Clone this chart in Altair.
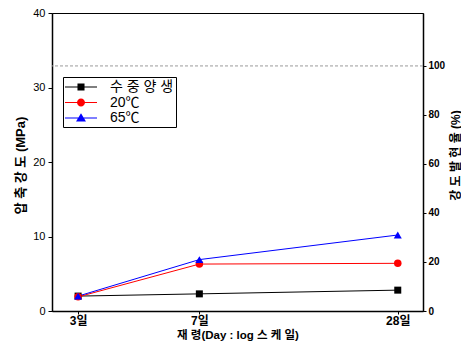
import altair as alt
import pandas as pd

days = [3, 7, 28]
series = ["수 중 양 생", "20℃", "65℃"]
water_mpa = [2.0, 2.3, 2.8]
c20_mpa = [1.9, 6.3, 6.4]
c65_mpa = [2.0, 6.9, 10.2]
colors = ["#000000", "#ff0000", "#0000ff"]
shapes = ["square", "circle", "triangle-up"]
marker_sizes = [49, 64, 100]
ref_pct = [100]
left_ticks = [0, 10, 20, 30, 40]
right_ticks = [0, 20, 40, 60, 80, 100]

# legend glyphs: a short line with the marker on it
legend_paths = [
    "M-2,-0.06H2V0.06H-2Z M-0.44,-0.44H0.44V0.44H-0.44Z",
    "M-2,-0.06H2V0.06H-2Z M-0.5,0A0.5,0.5 0 1,1 0.5,0A0.5,0.5 0 1,1 -0.5,0Z",
    "M-2,-0.06H2V0.06H-2Z M0,-0.6L0.62,0.45L-0.62,0.45Z",
]

rows = []
for name, vals in zip(series, [water_mpa, c20_mpa, c65_mpa]):
    for d, v in zip(days, vals):
        rows.append({"day": d, "mpa": v, "series": name})
df = pd.DataFrame(rows)
ref_df = pd.DataFrame({"pct": ref_pct})

FONT = "Liberation Sans, Arial, Noto Sans CJK KR, sans-serif"

xs = alt.Scale(type="log", domain=[2.5, 33.4], nice=False)
ys = alt.Scale(domain=[0, 40], nice=False)
cs = alt.Scale(domain=series, range=colors)

x_enc = alt.X(
    "day:Q", scale=xs,
    axis=alt.Axis(values=days, labelExpr="datum.value + '일'",
                  title="재 령(Day : log 스 케 일)", titleX=185.5, titleY=24,
                  titleBaseline="middle", titleAlign="center", titleFontSize=11.5,
                  titleFontWeight="bold", labelFontSize=12, labelFontWeight="bold",
                  tickSize=3, labelPadding=1, grid=False),
)
y_enc = alt.Y(
    "mpa:Q", scale=ys,
    axis=alt.Axis(values=left_ticks, title="압 축 강 도 (MPa)", titleX=-32, titleY=152,
                  titleAngle=270, titleBaseline="middle", titleAlign="center",
                  titleFontSize=13, titleFontWeight="bold", labelFontSize=11,
                  tickSize=4, labelPadding=3, grid=False),
)

lines = alt.Chart(df).mark_line(strokeWidth=1).encode(
    x=x_enc, y=y_enc,
    color=alt.Color("series:N", scale=cs, legend=None),
)

points = alt.Chart(df).mark_point(filled=True, opacity=1).encode(
    x=x_enc, y=y_enc,
    color=alt.Color("series:N", scale=cs, legend=None),
    shape=alt.Shape("series:N", scale=alt.Scale(domain=series, range=shapes), legend=None),
    size=alt.Size("series:N", scale=alt.Scale(domain=series, range=marker_sizes), legend=None),
)

leg_props = dict(orient="none", legendX=11, legendY=64, title=None, symbolSize=256,
                 symbolStrokeWidth=0, labelFontSize=14, labelFont=FONT, labelColor="black",
                 strokeColor="black", fillColor="white", padding=2, rowPadding=0.5,
                 symbolOffset=8, labelOffset=21, cornerRadius=0)

legend_layer = alt.Chart(df).transform_filter("datum.mpa < 0").mark_point(
    filled=True, opacity=1
).encode(
    x=x_enc, y=y_enc,
    color=alt.Color("series:N", scale=cs, legend=alt.Legend(**leg_props)),
    shape=alt.Shape("series:N", scale=alt.Scale(domain=series, range=legend_paths),
                    legend=alt.Legend(**leg_props)),
)

base = alt.layer(lines, points, legend_layer).resolve_scale(color="independent", shape="independent")

rule = alt.Chart(ref_df).mark_rule(color="#9a9a9a", strokeDash=[3, 2], strokeWidth=1).encode(
    y=alt.Y("pct:Q", scale=alt.Scale(domain=[0, 121.6], nice=False),
            axis=alt.Axis(orient="right", values=right_ticks, title="강 도 발 현 율 (%)",
                          titleAngle=270, titleX=32, titleY=142, titleBaseline="middle",
                          titleAlign="center", titleFontSize=12, titleFontWeight="bold",
                          labelFontSize=10, labelFontWeight="bold", tickSize=3,
                          labelPadding=2, grid=False)),
)

chart = alt.layer(base, rule).resolve_scale(y="independent").properties(
    width=371, height=298,
    autosize=alt.AutoSizeParams(type="none"),
    padding={"left": 44, "top": 5, "right": 38, "bottom": 30},
).configure_view(stroke="black", strokeWidth=1).configure_axis(
    domainColor="black", domainWidth=1.5, tickColor="black", labelColor="black",
    titleColor="black", labelFont=FONT, titleFont=FONT,
)

chart.save("out.html", embed_options={"renderer": "svg", "actions": False})
